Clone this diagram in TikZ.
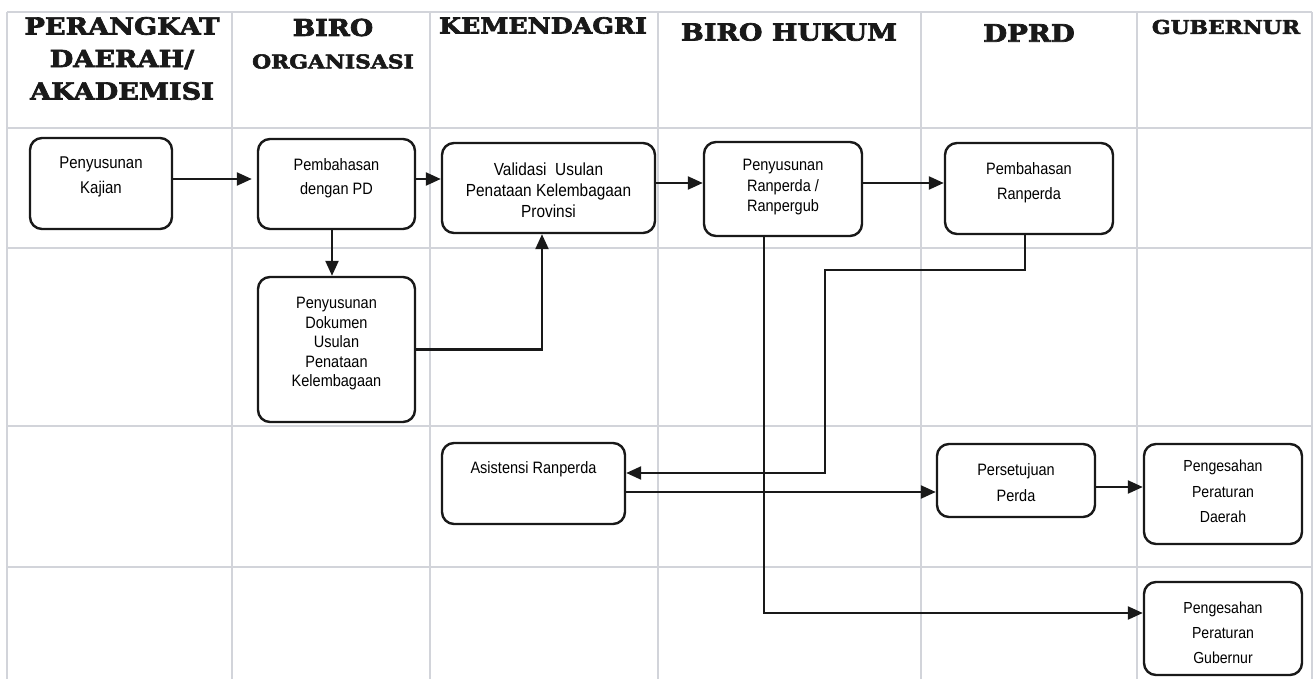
\documentclass[tikz,border=0pt]{standalone}
\usepackage{fontspec}
\setmainfont{Liberation Sans}
\newfontfamily\headfont[FakeStretch=1.15,FakeBold=3]{DejaVu Serif Bold}
\newfontfamily\bodyfont[FakeStretch=0.88]{Liberation Sans}
\usetikzlibrary{arrows.meta}
\definecolor{gridgray}{HTML}{D2D4DA}
\tikzset{
  gridline/.style={draw=gridgray, line width=1.1pt},
  box/.style={draw=black!90, line width=2.4pt, rounded corners=12pt, fill=white, inner sep=0pt},
  flow/.style={draw=black!90, line width=2.3pt, -{Triangle[length=15pt,width=13pt]}},
  lbl/.style={font=\bodyfont\fontsize{16.5}{25}\selectfont, text=black, align=center, inner sep=0pt},
  hd/.style={align=center, inner sep=0pt, text=black!90},
}
\begin{document}
\begin{tikzpicture}[x=1pt,y=-1pt]
\useasboundingbox (0,0) rectangle (1315,679);
\clip (0,0) rectangle (1315,679);

% lane grid
\foreach \x in {7,232,430,658,921,1137,1312}
  \draw[gridline] (\x,12) -- (\x,679);
\foreach \y in {12,128,248,426,567}
  \draw[gridline] (7,\y) -- (1312,\y);

% lane headings
\node[hd, font=\headfont\fontsize{23.6}{32.5}\selectfont] (h1) at (122,58.5) {PERANGKAT\\DAERAH/\\AKADEMISI};
\node[hd, font=\headfont\fontsize{23.2}{28}\selectfont] (h2) at (333,27.5) {BIRO};
\node[hd, font=\headfont\fontsize{19}{24}\selectfont] (h2b) at (333,61.5) {ORGANISASI};
\node[hd, font=\headfont\fontsize{22}{26}\selectfont] (h3) at (543,25.5) {KEMENDAGRI};
\node[hd, font=\headfont\fontsize{23.5}{28}\selectfont] (h4) at (789,32) {BIRO HUKUM};
\node[hd, font=\headfont\fontsize{24}{28}\selectfont] (h5) at (1029,33) {DPRD};
\node[hd, font=\headfont\fontsize{19}{24}\selectfont] (h6) at (1226,27) {GUBERNUR};

% process boxes
\node[box, minimum width=142pt, minimum height=91pt]  (n1)  at (101,183.5)  {};
\node[box, minimum width=157pt, minimum height=90pt]  (n2)  at (336.5,184)  {};
\node[box, minimum width=213pt, minimum height=90pt]  (n3)  at (548.5,188)  {};
\node[box, minimum width=157pt, minimum height=145pt] (n4)  at (336.5,349.5) {};
\node[box, minimum width=158pt, minimum height=94pt]  (n5)  at (783,189)    {};
\node[box, minimum width=168pt, minimum height=91pt]  (n6)  at (1029,188.5) {};
\node[box, minimum width=183pt, minimum height=81pt]  (n7)  at (533.5,483.5) {};
\node[box, minimum width=158pt, minimum height=73pt]  (n8)  at (1016,480.5) {};
\node[box, minimum width=158pt, minimum height=100pt] (n9)  at (1223,494)   {};
\node[box, minimum width=158pt, minimum height=93pt]  (n10) at (1223,628.5) {};

% box texts
\node[lbl, font=\bodyfont\fontsize{17}{25}\selectfont] (t1) at (101,176.5) {Penyusunan\\Kajian};
\node[lbl, font=\bodyfont\fontsize{16.5}{24}\selectfont] (t2) at (336.5,178) {Pembahasan\\dengan PD};
\node[lbl, font=\bodyfont\fontsize{17.5}{21}\selectfont] (t3) at (548.5,190) {Validasi\ \ Usulan\\Penataan Kelembagaan\\Provinsi};
\node[lbl, font=\bodyfont\fontsize{16.5}{19.5}\selectfont] (t4) at (336.5,344) {Penyusunan\\Dokumen\\Usulan\\Penataan\\Kelembagaan};
\node[lbl, font=\bodyfont\fontsize{16.5}{20.5}\selectfont] (t5) at (783,187.5) {Penyusunan\\Ranperda /\\Ranpergub};
\node[lbl] (t6) at (1029,182.5) {Pembahasan\\Ranperda};
\node[lbl] (t7) at (533.5,469) {Asistensi Ranperda};
\node[lbl, font=\bodyfont\fontsize{16.5}{26}\selectfont] (t8) at (1016,483) {Persetujuan\\Perda};
\node[lbl, font=\bodyfont\fontsize{16}{25.5}\selectfont] (t9) at (1223,491.5) {Pengesahan\\Peraturan\\Daerah};
\node[lbl, font=\bodyfont\fontsize{16}{25}\selectfont] (t10) at (1223,632.5) {Pengesahan\\Peraturan\\Gubernur};

% routing points
\coordinate (yA) at (0,179);
\coordinate (yB) at (0,183);
\coordinate (yC) at (0,492);
\coordinate (yD) at (0,487);
\coordinate (xA) at (332,0);
\coordinate (xB) at (542,0);
\coordinate (xC) at (1025,0);
\coordinate (k1) at (825,270);
\coordinate (k2) at (825,473);
\coordinate (k3) at (764,613);

% connectors
\draw[flow, shorten >=5pt] (n1.east |- yA) -- (n2.west |- yA);
\draw[flow] (n2.east |- yA) -- (n3.west |- yA);
\draw[flow] (n2.south -| xA) -- (n4.north -| xA);
\draw[flow] (n4.east) -| (n3.south -| xB);
\draw[flow] (n3.east |- yB) -- (n5.west |- yB);
\draw[flow] (n5.east |- yB) -- (n6.west |- yB);
\draw[flow] (n6.south -| xC) |- (k1) -- (k2) -- (n7.east |- k2);
\draw[flow] (n7.east |- yC) -- (n8.west |- yC);
\draw[flow] (n8.east |- yD) -- (n9.west |- yD);
\draw[flow] (n5.south -| k3) -- (k3) -- (n10.west |- k3);
\end{tikzpicture}
\end{document}
